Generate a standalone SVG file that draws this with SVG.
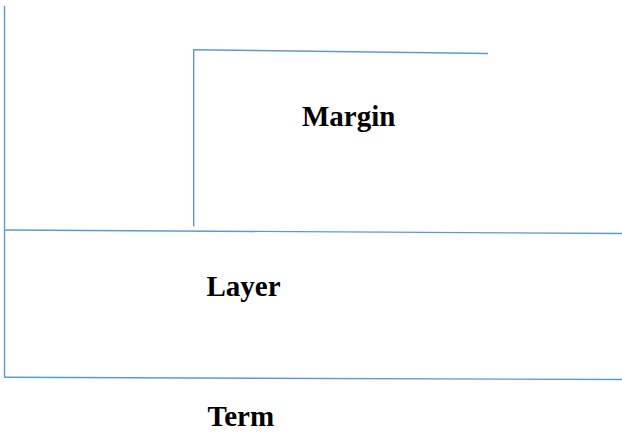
<svg xmlns="http://www.w3.org/2000/svg" width="622" height="434" viewBox="0 0 622 434">
  <style>
    .rule { stroke: #5b9bd5; stroke-width: 1.4; fill: none; stroke-linecap: butt; }
    .label { font-family: "Liberation Serif", "Times New Roman", serif; font-weight: bold; font-size: 29px; fill: #000000; }
  </style>
  <rect x="0" y="0" width="622" height="434" fill="#ffffff"/>
  <g id="connectors">
    <!-- outer left edge -->
    <line class="rule" x1="4.5" y1="6" x2="4.5" y2="377.5"/>
    <!-- inner box left edge and top edge -->
    <line class="rule" x1="193.7" y1="226.5" x2="193.7" y2="49.7"/>
    <line class="rule" x1="193" y1="49.7" x2="488" y2="53.5"/>
    <!-- middle divider -->
    <line class="rule" x1="4" y1="230" x2="622" y2="233.5"/>
    <!-- bottom divider -->
    <line class="rule" x1="4" y1="377.3" x2="622" y2="379.5"/>
  </g>
  <g id="margin">
    <text class="label" x="302" y="125.7">Margin</text>
  </g>
  <g id="layer">
    <text class="label" x="206.5" y="296">Layer</text>
  </g>
  <g id="term">
    <text class="label" x="207.5" y="425.7">Term</text>
  </g>
</svg>
